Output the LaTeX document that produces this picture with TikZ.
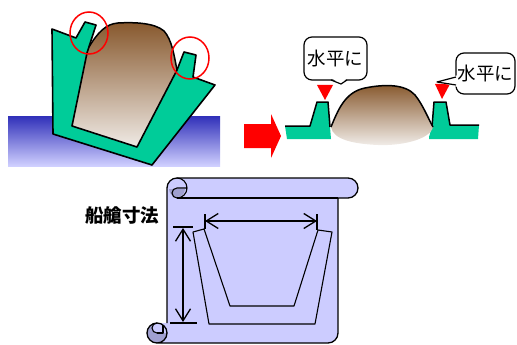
\documentclass[tikz,border=0pt]{standalone}
\usepackage{fontspec}
\newfontfamily\jp{Noto Sans CJK JP}
\usetikzlibrary{arrows.meta}
\definecolor{shipgreen}{RGB}{0,204,153}
\definecolor{earthtop}{RGB}{135,88,45}
\definecolor{earthbot}{RGB}{242,238,234}
\definecolor{groundtop}{RGB}{48,48,185}
\definecolor{groundbot}{RGB}{208,208,255}
\definecolor{scrollfill}{RGB}{204,204,255}
\definecolor{scrolldark}{RGB}{160,160,208}
\begin{document}
\begin{tikzpicture}[x=1pt,y=-1pt,
  hull/.style={fill=shipgreen, draw=black, line width=1.6pt, line join=round},
  edge/.style={draw=black, line width=1.5pt, line join=round},
  ring/.style={draw=red, line width=1.5pt},
  callout/.style={draw=black, fill=white, line width=1.2pt, rounded corners=8pt,
    inner sep=0pt, font=\jp\fontsize{18.5}{18.5}\selectfont},
  scroll/.style={fill=scrollfill, draw=black, line width=1.3pt, line join=round},
  thin/.style={draw=black, line width=1.1pt, line join=round},
  dim/.style={draw=black, line width=1.3pt},
  dimarrow/.style={dim, {Straight Barb[length=12pt,width=15pt]}-{Straight Barb[length=12pt,width=15pt]}},
  lbl/.style={inner sep=0pt, font=\jp\bfseries\fontsize{18.5}{18.5}\selectfont}]
\useasboundingbox (0,0) rectangle (517,345);

% ---- tilted hull on the ground ----
\shade[top color=groundtop, bottom color=groundbot] (8,116) rectangle (220,166);
\shade[top color=earthtop, bottom color=earthbot]
  (89,47) .. controls (98,32) and (106,24) .. (118,23)
  .. controls (135,22) and (155,23) .. (164,31)
  .. controls (172,40) and (174,55) .. (177,70) -- (138,150) -- (70,128) -- cycle;
\draw[edge] (89,47) .. controls (98,32) and (106,24) .. (118,23)
  .. controls (135,22) and (155,23) .. (164,31)
  .. controls (172,40) and (174,55) .. (177,70);
\draw[hull] (52,29) -- (76,38) -- (85,22) -- (96,25) -- (87,53) -- (72,126)
  -- (137,147) -- (177,70) -- (184,52) -- (196,55) -- (193,77) -- (215,85)
  -- (152,165) -- (53,134) -- cycle;
\draw[ring] (89,33) ellipse [x radius=19, y radius=21];
\draw[ring] (190,58) ellipse [x radius=19, y radius=21];

% ---- block arrow ----
\fill[red] (244,124) -- (271,124) -- (271,114) -- (281,136) -- (271,158)
  -- (271,148) -- (244,148) -- cycle;

% ---- levelled hull ----
\fill[shipgreen] (285,126) -- (310,126) -- (317,102) -- (328,102) -- (330,127)
  -- (331,139) -- (287,139) -- cycle;
\draw[edge] (285,126) -- (310,126) -- (317,102) -- (328,102) -- (330,127);
\fill[shipgreen] (429,137) -- (432,127) -- (434,102) -- (446,102) -- (450,125)
  -- (479,125) -- (478,139) -- (429,139) -- cycle;
\draw[edge] (432,127) -- (434,102) -- (446,102) -- (450,125) -- (479,125);
\shade[top color=earthtop, bottom color=earthbot]
  (331,127) .. controls (338,110) and (345,92) .. (365,88)
  .. controls (385,84) and (405,84) .. (415,95)
  .. controls (423,105) and (428,118) .. (433,127)
  .. controls (430,140) and (400,146) .. (378,145)
  .. controls (355,144) and (333,140) .. (331,127) -- cycle;
\draw[edge] (331,127) .. controls (338,110) and (345,92) .. (365,88)
  .. controls (385,84) and (405,84) .. (415,95)
  .. controls (423,105) and (428,118) .. (433,127);
\fill[red] (317,85) -- (333,85) -- (325,100) -- cycle;
\fill[red] (435,84) -- (450,84) -- (442,99) -- cycle;

% callouts
\node[callout, minimum width=63pt, minimum height=43pt] (callL) at (335.5,58.5) {水平に};
\fill[white] (331,78) -- (341,84) -- (347,78) -- cycle;
\draw[line width=1.2pt, line join=round] (331,80) -- (341,84) -- (347,80);
\node[callout, minimum width=59pt, minimum height=41pt] (callR) at (485.5,73.5) {水平に};
\fill[white] (458,75) -- (437,82) -- (458,87) -- cycle;
\draw[line width=1.2pt, line join=round] (456,77) -- (437,82) -- (456,85);

% ---- scroll with hold dimensions ----
\path[fill=scrollfill] (167,333) -- (167,188) arc[start angle=180, end angle=270, radius=10]
  -- (348,178) arc[start angle=270, end angle=450, radius=10]
  -- (338,198) -- (338,333) arc[start angle=0, end angle=90, radius=10]
  -- (157,343) arc[start angle=90, end angle=270, radius=10] -- (167,323) -- cycle;
% bottom curl
\fill[scrolldark] (157,333) circle [radius=10];
\fill[scrollfill] (157,323) -- (167,323) -- (167,333) -- (157,333)
  arc[start angle=90, end angle=270, radius=5] -- cycle;
\draw[thin] (157,333) arc[start angle=90, end angle=270, radius=5];
\draw[thin] (157,333) -- (163,333) -- (163,325);
% top curl
\fill[scrolldark] (169,189) -- (185,189) arc[start angle=0, end angle=180, radius=8] -- cycle;
\draw[thin] (177,178) arc[start angle=270, end angle=450, radius=10]
  arc[start angle=90, end angle=270, radius=5] -- (187,188);
% outline
\draw[scroll, fill=none] (167,323) -- (167,188) arc[start angle=180, end angle=270, radius=10]
  -- (348,178) arc[start angle=270, end angle=450, radius=10]
  -- (338,198) -- (338,333) arc[start angle=0, end angle=90, radius=10]
  -- (157,343) arc[start angle=90, end angle=450, radius=10];
\draw[scroll, fill=none] (338,198) -- (177,198);

% hold section
\draw[thin] (193,232) -- (204,229) -- (230,306) -- (294,306) -- (318,230)
  -- (332,232) -- (315,324) -- (209,324) -- cycle;
\coordinate (wL) at (205,221);
\coordinate (wR) at (317,221);
\coordinate (hT) at (183,228);
\coordinate (hB) at (183,322);
\draw[dim] (205,214) -- (205,229);
\draw[dim] (317,214) -- (317,230);
\draw[dim] (173,227) -- (193,227);
\draw[dim] (170,323) -- (197,323);
\draw[dimarrow] (wL) -- (wR);
\draw[dimarrow] (hT) -- (hB);
\node[lbl] (hold) at (122,215) {船艙寸法};
\end{tikzpicture}
\end{document}
